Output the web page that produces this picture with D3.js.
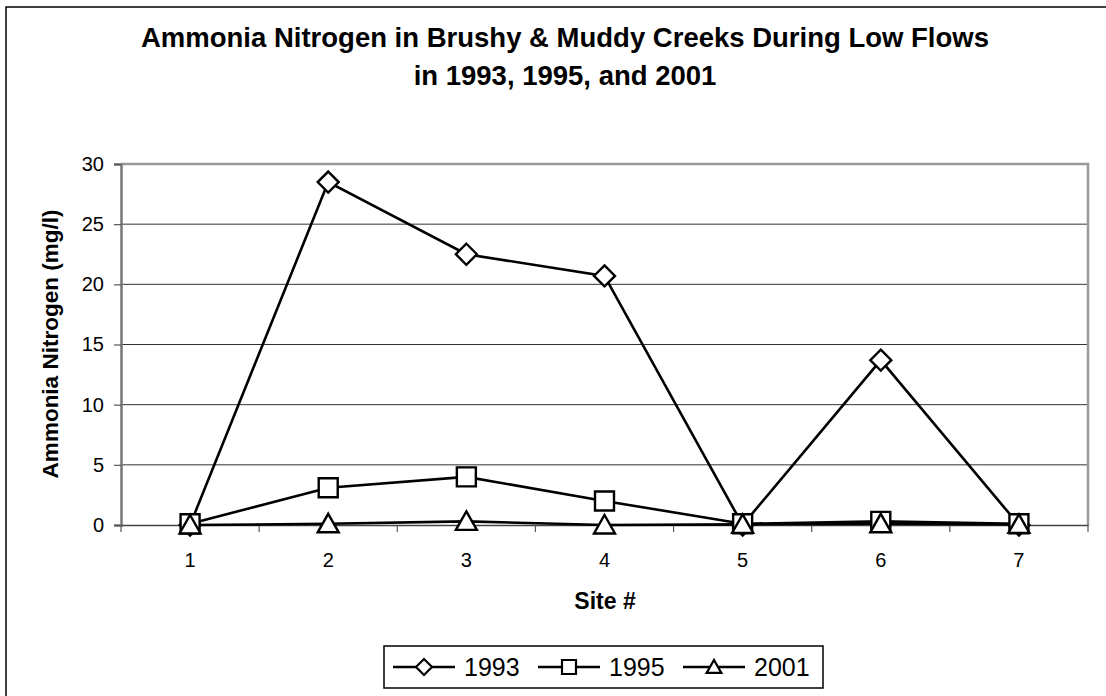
<!DOCTYPE html>
<html><head><meta charset="utf-8">
<script src="https://cdn.jsdelivr.net/npm/d3@7"></script>
<style>
html,body{margin:0;padding:0;background:#fff;}
svg{display:block;font-family:"Liberation Sans",Arial,sans-serif;}
</style></head>
<body>
<svg id="c" width="1106" height="696"></svg>
<script>
const sites = ["1","2","3","4","5","6","7"];
const series = ["1993","1995","2001"];
const v1993 = [0, 28.5, 22.5, 20.7, 0, 13.7, 0];
const v1995 = [0.1, 3.1, 4.0, 2.0, 0.1, 0.3, 0.1];
const v2001 = [0, 0.1, 0.3, 0, 0.05, 0.1, 0.05];
const yTicks = [0, 5, 10, 15, 20, 25, 30];
const titleLines = ["Ammonia Nitrogen in Brushy & Muddy Creeks During Low Flows", "in 1993, 1995, and 2001"];

const values = [v1993, v1995, v2001];
const shapes = ["diamond", "square", "triangle"];

const svg = d3.select("#c");
const L = 121, R = 1088, T = 164, B = 525;
const x = d3.scaleBand().domain(sites).range([L, R]);
const y = d3.scaleLinear().domain([0, 30]).range([B, T]);

// chart area border
svg.append("rect").attr("x", 6).attr("y", 7).attr("width", 1120).attr("height", 720)
  .attr("fill", "#fff").attr("stroke", "#000").attr("stroke-width", 1.5);

// title
const title = svg.append("text").attr("text-anchor", "middle").attr("font-weight", "bold")
  .attr("font-size", 27.5).attr("fill", "#000");
titleLines.forEach((t, i) => {
  title.append("tspan").attr("x", 565).attr("y", 47 + i * 38).text(t);
});

// gridlines
svg.append("g").selectAll("line").data(yTicks.filter(d => d > 0 && d < 30)).join("line")
  .attr("x1", L).attr("x2", R).attr("y1", d => y(d)).attr("y2", d => y(d))
  .attr("stroke", "#333").attr("stroke-width", 1);

// plot border top & right (gray)
svg.append("path").attr("d", `M${L},${y(30)}H${R}V${B}`).attr("fill", "none")
  .attr("stroke", "#999").attr("stroke-width", 2.5);

// y axis
const yAxis = d3.axisLeft(y).tickValues(yTicks).tickSize(7).tickPadding(10).tickFormat(d3.format("d"));
const gy = svg.append("g").attr("transform", `translate(${L},0)`).call(yAxis);
gy.select(".domain").attr("stroke", "#777").attr("stroke-width", 2.5);
gy.selectAll(".tick line").attr("stroke", "#555").attr("stroke-width", 1.2);
gy.selectAll(".tick text").attr("font-size", 20).attr("font-family", "\"Liberation Sans\",Arial,sans-serif").attr("fill", "#000");

// x axis
const xAxis = d3.axisBottom(x).tickSize(0).tickPadding(28);
const gx = svg.append("g").attr("transform", `translate(0,${B})`).call(xAxis);
gx.select(".domain").attr("stroke", "#444").attr("stroke-width", 1.5);
gx.selectAll(".tick text").attr("font-size", 20).attr("font-family", "\"Liberation Sans\",Arial,sans-serif").attr("fill", "#000");
// boundary ticks between categories
const bounds = sites.map(s => x(s)).concat([x(sites[sites.length - 1]) + x.bandwidth()]);
svg.append("g").selectAll("line").data(bounds).join("line")
  .attr("x1", d => d).attr("x2", d => d).attr("y1", B).attr("y2", B + 7)
  .attr("stroke", "#555").attr("stroke-width", 1.2);

// axis titles
svg.append("text").attr("x", 605).attr("y", 609).attr("text-anchor", "middle")
  .attr("font-weight", "bold").attr("font-size", 23).text("Site #");
svg.append("text").attr("transform", "translate(58,344) rotate(-90)").attr("text-anchor", "middle")
  .attr("font-weight", "bold").attr("font-size", 22.5).text("Ammonia Nitrogen (mg/l)");

function markerPath(shape, s) {
  if (shape === "diamond") return `M0,${-s}L${s},0L0,${s}L${-s},0Z`;
  if (shape === "square") return `M${-s},${-s}H${s}V${s}H${-s}Z`;
  const h = s * 1.0;
  return `M0,${-h}L${s * 1.05},${h * 0.85}H${-s * 1.05}Z`;
}

const cx = s => x(s) + x.bandwidth() / 2;
const line = d3.line().x((d, i) => cx(sites[i])).y(d => y(d));

// draw series
values.forEach((vals, k) => {
  svg.append("path").datum(vals).attr("d", line).attr("fill", "none")
    .attr("stroke", "#000").attr("stroke-width", 2.6).attr("stroke-linejoin", "miter");
});
values.forEach((vals, k) => {
  const size = shapes[k] === "diamond" ? 10.5 : (shapes[k] === "square" ? 9.5 : 10);
  svg.append("g").selectAll("path").data(vals).join("path")
    .attr("transform", (d, i) => `translate(${cx(sites[i])},${y(d)})`)
    .attr("d", markerPath(shapes[k], size))
    .attr("fill", "#fff").attr("stroke", "#000").attr("stroke-width", 2.4);
});

// legend
const lg = svg.append("g");
lg.append("rect").attr("x", 384).attr("y", 646).attr("width", 439).attr("height", 42)
  .attr("fill", "#fff").attr("stroke", "#000").attr("stroke-width", 1.5);
const itemX = [393, 538, 683];
series.forEach((name, k) => {
  const x0 = itemX[k], yc = 667;
  lg.append("line").attr("x1", x0).attr("x2", x0 + 62).attr("y1", yc).attr("y2", yc)
    .attr("stroke", "#000").attr("stroke-width", 2.6);
  lg.append("path").attr("transform", `translate(${x0 + 31},${yc})`)
    .attr("d", markerPath(shapes[k], shapes[k] === "diamond" ? 8 : 7))
    .attr("fill", "#fff").attr("stroke", "#000").attr("stroke-width", 2.2);
  lg.append("text").attr("x", x0 + 71).attr("y", yc + 9).attr("font-size", 25).text(name);
});
</script>
</body></html>
